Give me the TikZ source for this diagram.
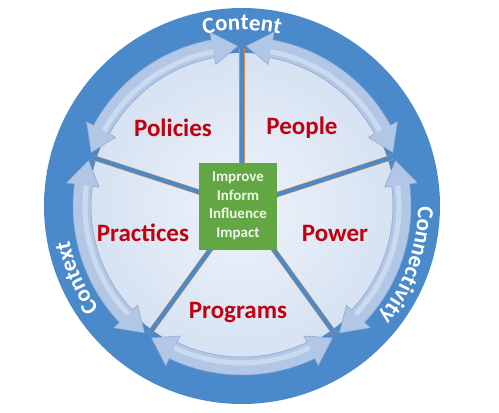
\documentclass[tikz,border=0pt]{standalone}
\usepackage{fontspec}
\setmainfont{Carlito}
\usetikzlibrary{decorations.text}

\definecolor{ringBlue}{HTML}{4A8ACA}
\definecolor{discLight}{HTML}{EEF3FA}
\definecolor{discEdge}{HTML}{D6E2F2}
\definecolor{arrowFill}{HTML}{B2C7E5}
\definecolor{arrowHi}{HTML}{CCDAEE}
\definecolor{arrowLine}{HTML}{8AA5D0}
\definecolor{spokeEdge}{HTML}{D98A4A}
\definecolor{boxGreen}{HTML}{62A744}
\definecolor{boxText}{HTML}{EEF7E6}
\definecolor{labelRed}{HTML}{C0000F}

\tikzset{
  spoke/.style={draw=spokeEdge, line width=0.5pt, double=ringBlue, double distance=4.2pt},
  arrowedge/.style={draw=arrowLine, line width=0.5pt, fill=arrowFill},
  sector/.style={font=\bfseries\fontsize{25}{25}\selectfont, text=labelRed},
  hub/.style={fill=boxGreen, minimum width=78, minimum height=87, inner sep=0pt,
    align=center, text=boxText, font=\bfseries\fontsize{15}{18.5}\selectfont},
  ringtext/.style={decorate, decoration={text along path, text align=center,
    text color=white, text={|\bfseries\fontsize{23}{23}\selectfont|#1}}}
}

\begin{document}
\begin{tikzpicture}[x=1pt,y=1pt]
\newcommand{\nRo}{169}
\newcommand{\nRi}{151}
\newcommand{\nRm}{160}
\newcommand{\nRhi}{177}
\newcommand{\nRhl}{144}
\newcommand{\nH}{9}
\useasboundingbox (-242,-207) rectangle (257,206);
\coordinate (cOPt) at (0,0);

\fill[ringBlue] (cOPt) circle (198);
\shade[inner color=discLight, outer color=discEdge] (cOPt) circle (153);

% arc arrows between the spokes
\foreach \a in {18,90,162,234,306}
{
    \pgfmathsetmacro{\tA}{\a+1.5}
    \pgfmathsetmacro{\tB}{\a+70.5}
    \pgfmathsetmacro{\bA}{\tA+\nH}
    \pgfmathsetmacro{\bB}{\tB-\nH}
    \draw[arrowedge]
      (\tA:\nRm) -- (\bA:\nRhi) -- (\bA:\nRo) arc[start angle=\bA, end angle=\bB, radius=\nRo]
      -- (\bB:\nRhi) -- (\tB:\nRm) -- (\bB:\nRhl) -- (\bB:\nRi)
      arc[start angle=\bB, end angle=\bA, radius=\nRi] -- (\bA:\nRhl) -- cycle;
    \draw[arrowHi, line width=5pt] (\bA:157) arc[start angle=\bA, end angle=\bB, radius=157];
};

\foreach \a/\n in {90/1, 18/2, 306/3, 234/4, 162/5}
{
    \coordinate (cS\n Pt) at (\a:158);
    \draw[spoke] (cOPt)--(cS\n Pt);
};

\node[hub] (nHub) at (-4,0) {Improve\\Inform\\Influence\\Impact};

\node[sector] (nPolicies) at (-69,78) {Policies};
\node[sector] (nPeople) at (60,78) {People};
\node[sector] (nPractices) at (-99,-27) {Practices};
\node[sector] (nPower) at (93,-27) {Power};
\node[sector] (nPrograms) at (-4,-107) {Programs};

\path[ringtext=Content] (125:176) arc[start angle=125, end angle=55, radius=176];
\path[ringtext=Connectivity] (20.5:176) arc[start angle=20.5, end angle=-59.5, radius=176];
\path[ringtext=Context] (243.5:176) arc[start angle=243.5, end angle=163.5, radius=176];

\end{tikzpicture}
\end{document}
